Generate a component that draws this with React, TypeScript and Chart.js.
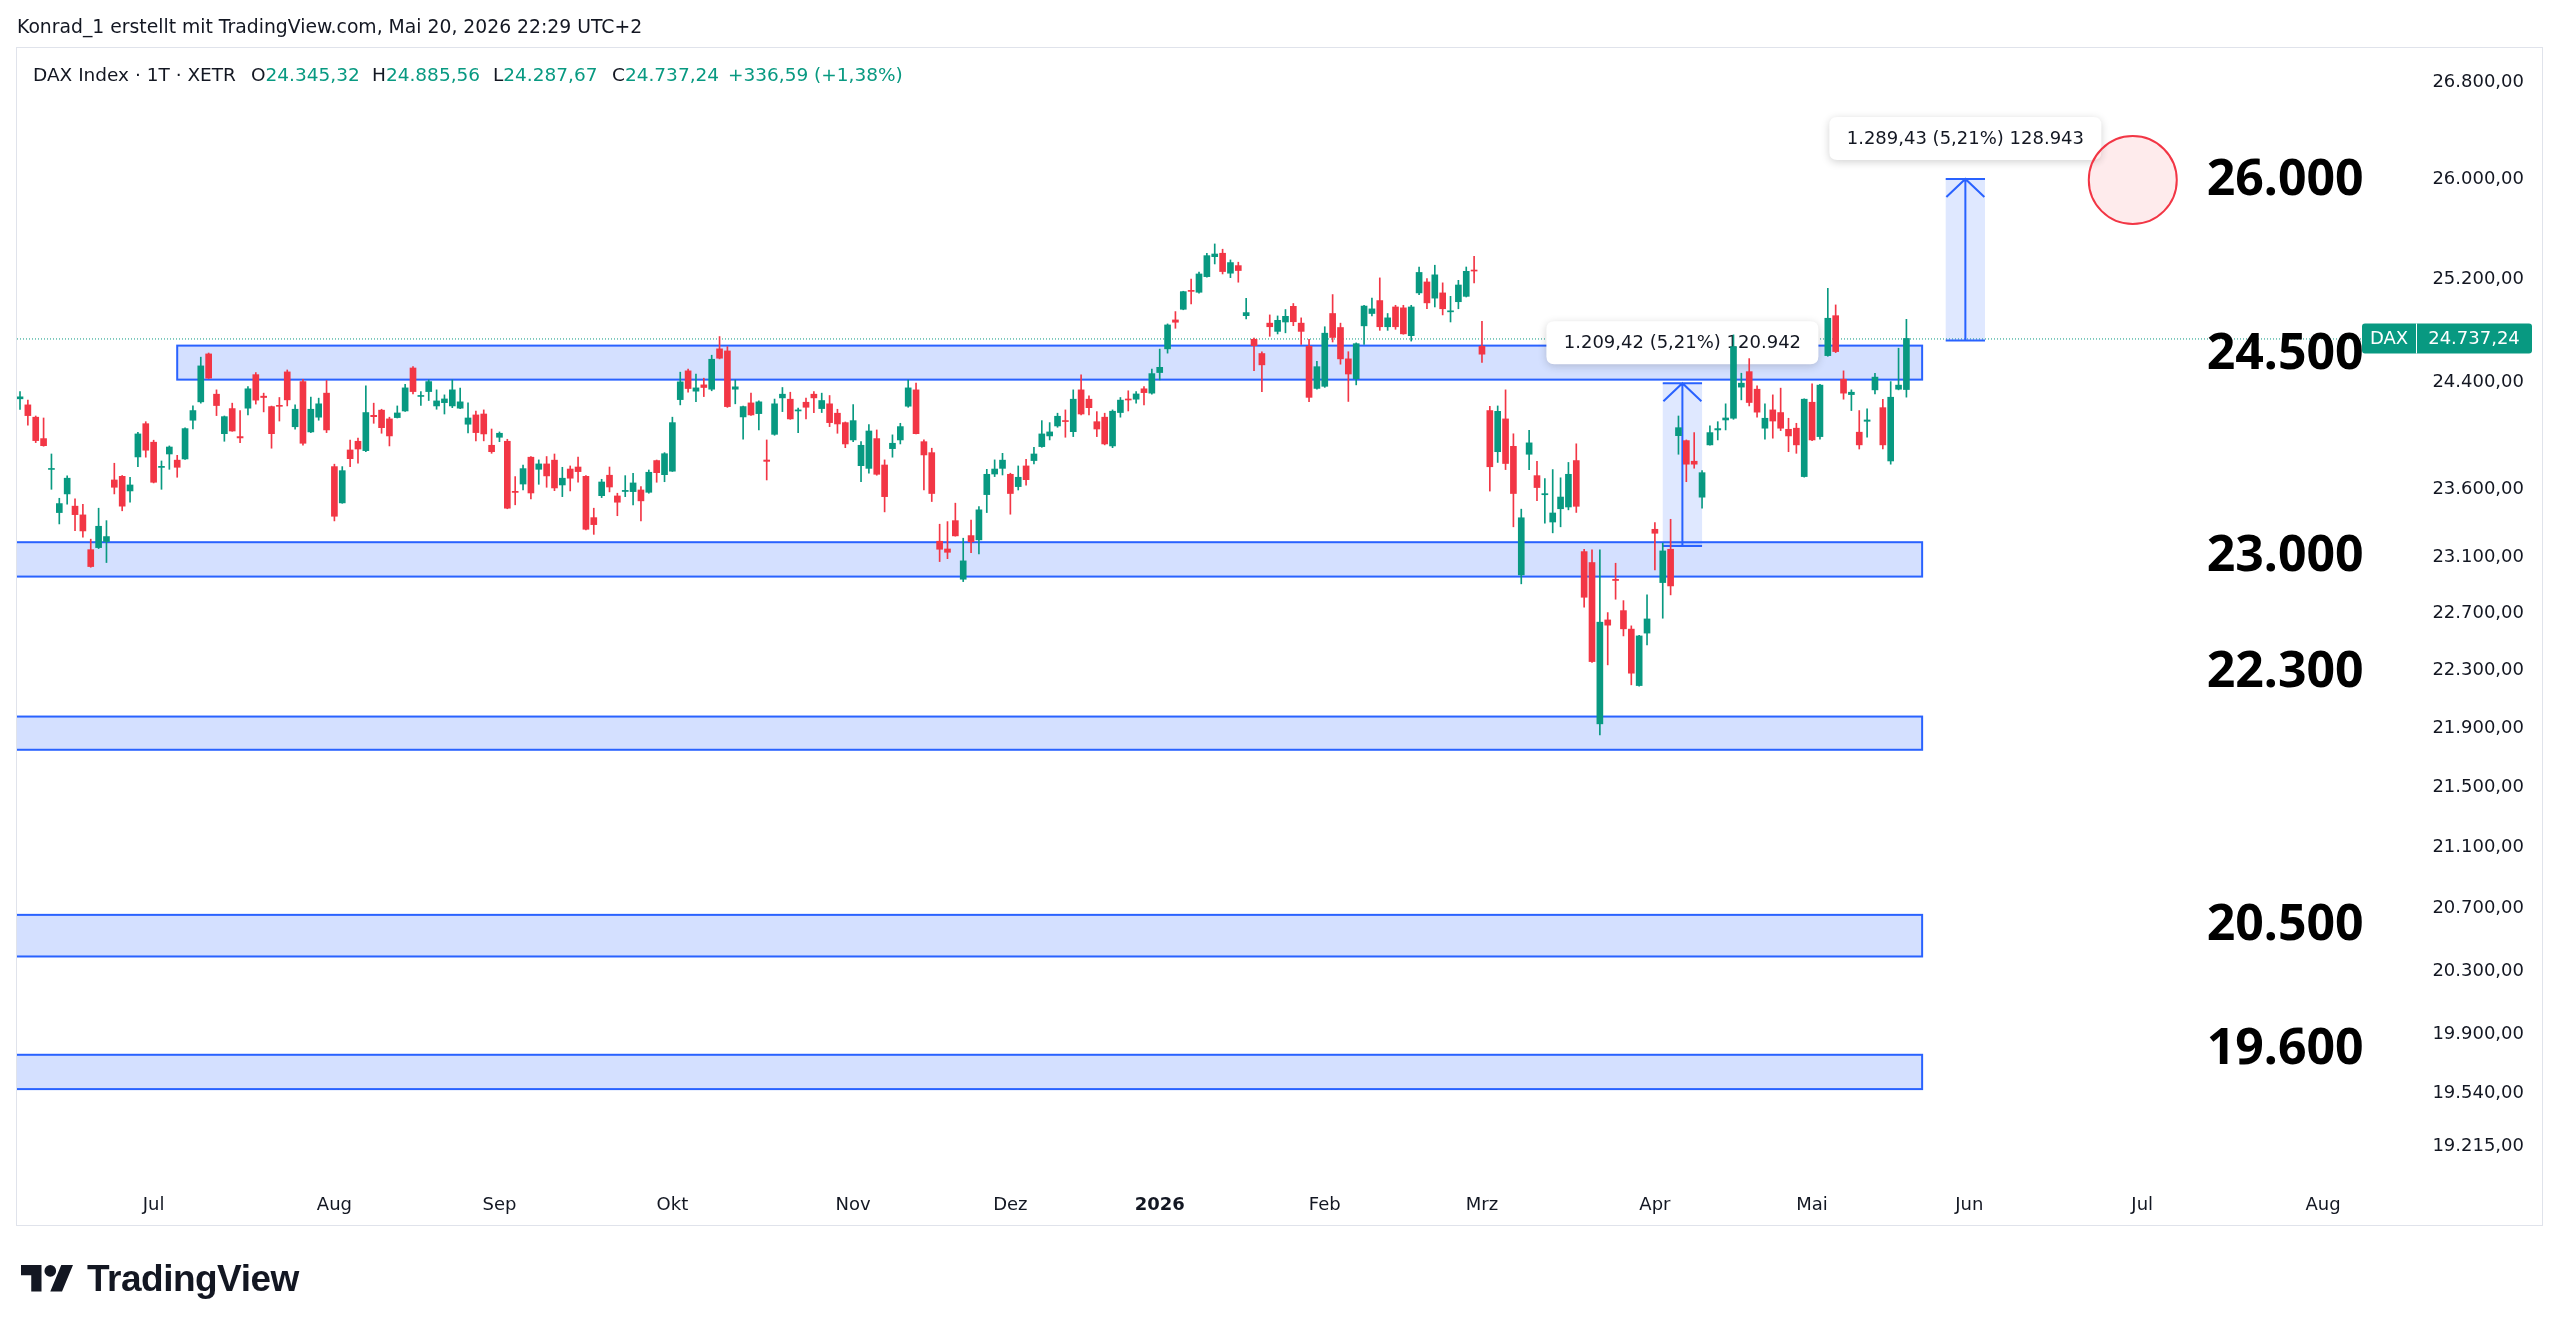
import React, { useEffect, useRef } from 'react';
import { Chart, registerables } from 'chart.js';

Chart.register(...registerables);

// ---- Daily candles (DAX, XETR, 1T) : index 0 = first visible session ----
const opens = [
  24275,24229,24136,23975,23745,23427,23564,23474,23410,23157,
  23172,23216,23667,23694,23586,23838,24087,23948,23760,23860,
  23814,23823,24113,24252,24618,24310,24012,24201,23990,24204,
  24459,24295,24216,24225,24480,24064,24406,24025,24136,24318,
  23766,23498,23890,23955,23885,24150,24189,24123,24133,24183,
  24510,24293,24330,24221,24246,24221,24204,24083,24153,24160,
  23925,23985,23955,23583,23637,23836,23746,23786,23814,23630,
  23748,23763,23694,23390,23551,23702,23549,23582,23581,23593,
  23576,23811,23706,23732,24269,24488,24333,24381,24348,24657,
  24641,24348,24138,24244,24163,23815,24007,24282,24272,24183,
  24249,24310,24201,24237,24166,24095,23965,23773,23753,23975,
  23778,23900,23965,24219,24343,23952,23870,23218,23162,23368,
  22944,23259,23228,23559,23711,23753,23709,23618,23771,23811,
  23915,23995,24070,24110,24027,24343,24272,24102,24136,23920,
  24171,24272,24272,24351,24318,24475,24657,24881,24964,25110,
  25097,25220,25378,25405,25247,25307,24914,24731,24621,24856,
  24792,24865,24987,24856,24677,24354,24370,24931,24822,24580,
  24428,24835,24931,25032,24828,24982,24975,24759,25092,25178,
  25051,25092,24944,25023,25065,25272,24677,24186,23877,24123,
  23917,22975,23858,23699,23558,23358,23455,23468,23811,23143,
  23064,21930,22654,22943,22720,22589,22194,22561,23305,22920,
  23160,23997,23960,23806,23540,23928,24040,24115,24128,24364,
  24482,24348,24053,24191,24171,24045,24053,23692,24249,23990,
  24605,24914,24424,24307,24023,24105,24343,24208,23808,24348,
  24345.32,
];
const highs = [
  24330,24265,24145,24130,23860,23532,23697,23527,23488,23233,
  23459,23368,23791,23700,23687,24022,24102,23963,23808,23920,
  23850,24055,24221,24593,24625,24343,24145,24242,24186,24368,
  24475,24318,24220,24285,24495,24229,24424,24288,24280,24414,
  23784,23766,23963,23978,24373,24242,24196,24136,24221,24386,
  24520,24330,24419,24343,24305,24419,24356,24244,24183,24191,
  24047,24025,23970,23692,23778,23840,23816,23841,23860,23761,
  23771,23836,23700,23459,23672,23763,23569,23699,23717,23618,
  23741,23815,23870,24136,24478,24501,24463,24432,24608,24752,
  24674,24419,24220,24318,24259,23965,24273,24361,24325,24204,
  24280,24330,24318,24300,24196,24100,24232,23952,24080,24040,
  23816,24003,24090,24419,24394,23965,23903,23342,23361,23496,
  23240,23373,23471,23746,23816,23865,23717,23771,23821,23910,
  24110,24095,24166,24191,24343,24457,24297,24178,24166,24191,
  24285,24336,24330,24368,24501,24655,24850,24946,25105,25200,
  25255,25405,25479,25437,25352,25334,25050,24740,24635,24920,
  24912,24962,25009,24897,24731,24561,24828,25079,24856,24635,
  24703,24995,25051,25210,24931,24995,24995,24995,25296,25205,
  25310,25171,25065,25191,25296,25380,24870,24218,24221,24343,
  24011,23452,24037,23806,23677,23744,23683,23797,23936,23160,
  23155,23155,22706,23059,22791,22612,22545,22832,23353,23204,
  23378,24145,23965,24020,23736,24070,24102,24237,24765,24470,
  24582,24373,24237,24305,24356,24128,24090,24275,24389,24385,
  25128,24998,24488,24343,24186,24199,24470,24272,24406,24662,
  24885.56,
];
const lows = [
  24195,24075,23945,23918,23598,23344,23488,23295,23247,23030,
  23165,23064,23564,23440,23503,23766,23836,23645,23598,23746,
  23687,23820,24047,24242,24430,24148,23955,24030,23945,24153,
  24235,24176,23903,24107,24221,24045,23925,24020,24113,24020,
  23366,23495,23766,23791,23877,24090,24015,23920,24130,24180,
  24312,24224,24262,24196,24160,24208,24200,24017,23958,23958,
  23865,23952,23455,23484,23593,23527,23635,23613,23588,23544,
  23586,23650,23300,23268,23537,23579,23404,23544,23484,23366,
  23569,23650,23654,23730,24229,24325,24254,24292,24336,24580,
  24210,24237,23970,24150,24040,23667,24000,24178,24120,24020,
  24123,24171,24171,24065,24015,23907,23952,23654,23717,23702,
  23432,23836,23935,24211,24010,23593,23508,23071,23092,23255,
  22927,23135,23126,23427,23692,23704,23415,23593,23628,23786,
  23910,23965,24060,23985,23990,24153,24153,23990,23928,23907,
  24136,24183,24242,24229,24310,24419,24624,24816,24960,25006,
  25089,25215,25320,25241,25212,25176,24889,24490,24329,24754,
  24772,24781,24836,24691,24253,24348,24362,24710,24539,24255,
  24381,24691,24912,24800,24800,24808,24770,24717,25079,24968,
  24982,24920,24865,24968,25060,25171,24553,23585,23797,23744,
  23323,22911,23744,23515,23350,23279,23323,23447,23428,22744,
  22355,21855,22338,22801,22541,22199,22190,22478,23011,22666,
  22832,23858,23654,23754,23459,23925,23965,24040,24120,24267,
  24221,24136,23970,23978,24035,23877,23865,23688,23960,23970,
  24600,24628,24272,24186,23897,23985,24312,23897,23784,24343,
  24287.67,
];
const closes = [
  24290,24148,23960,23922,23752,23493,23680,23412,23293,23035,
  23327,23252,23613,23474,23630,24010,23888,23650,23768,23912,
  23761,24050,24186,24526,24432,24224,24140,24032,23980,24351,
  24265,24285,24012,24218,24267,24196,23940,24196,24237,24040,
  23400,23736,23825,23897,24171,24140,24057,23995,24168,24358,
  24330,24300,24406,24259,24274,24343,24252,24130,24020,24010,
  23877,24015,23459,23575,23751,23571,23786,23697,23608,23680,
  23680,23729,23305,23339,23652,23615,23503,23590,23645,23513,
  23724,23721,23862,24095,24404,24353,24358,24361,24577,24585,
  24216,24366,24216,24153,24252,23805,24237,24310,24123,24191,
  24211,24282,24262,24095,24085,23935,24110,23925,24032,23709,
  23544,23940,24065,24358,24012,23853,23567,23160,23138,23257,
  23076,23214,23447,23709,23748,23814,23567,23687,23669,23860,
  24010,24025,24143,24103,24272,24160,24208,24047,23935,24181,
  24265,24266,24312,24322,24467,24515,24842,24863,25102,25104,
  25241,25386,25399,25260,25331,25268,24938,24682,24534,24828,
  24878,24909,24867,24792,24286,24520,24778,24745,24580,24464,
  24697,24989,24967,24828,24897,24828,24773,24982,25253,25014,
  25234,24968,24952,25154,25262,25264,24616,23765,24180,23789,
  23567,23389,23943,23611,23566,23424,23541,23709,23473,22815,
  22361,22638,22617,22935,22591,22280,22541,22661,23276,23148,
  22896,24057,23784,23784,23721,24020,24050,24130,24674,24394,
  24247,24174,24128,24107,24053,23995,23928,24272,23965,24379,
  24894,24636,24318,24325,23928,24115,24440,23928,24287,24379,
  24737.24,
];

// ---- Axis ticks ----
const monthTickIndex = [17, 40, 61, 83, 106, 126, 145, 166, 186, 208, 228, 248, 270, 293];
const monthTickLabels = ['Jul', 'Aug', 'Sep', 'Okt', 'Nov', 'Dez', '2026', 'Feb', 'Mrz', 'Apr', 'Mai', 'Jun', 'Jul', 'Aug'];
const priceTicks = [26800, 26000, 25200, 24400, 23600, 23100, 22700, 22300, 21900, 21500, 21100, 20700, 20300, 19900, 19540, 19215];

// ---- Drawings ----
const zoneTops = [24682, 23211, 21980, 20659, 19775];
const zoneBottoms = [24421, 22963, 21753, 20392, 19564];
const zoneStarts = [20, -20, -20, -20, -20];
const zoneEnds = [242, 242, 242, 242, 242];

const rulerStarts = [209, 245];
const rulerEnds = [214, 250];
const rulerFrom = [23184, 24721];
const rulerTo = [24394, 26002];
const rulerLabels = ['1.209,42 (5,21%) 120.942', '1.289,43 (5,21%) 128.943'];

const circleIndex = 268.8;
const circlePrice = 25993;

const noteTexts = ['26.000', '24.500', '23.000', '22.300', '20.500', '19.600'];
const noteAnchors = [25874, 24500, 23000, 22181, 20500, 19717];
const noteIndex = 278.2;

const UP = '#089981';
const DOWN = '#f23645';
const BLUE = '#2962ff';
const FONT = '"DejaVu Sans", sans-serif';

function fmtDe(v: number): string {
  const s = v.toFixed(2);
  const [intPart, dec] = s.split('.');
  return intPart.replace(/\B(?=(\d{3})+(?!\d))/g, '.') + ',' + dec;
}

function roundRect(ctx: CanvasRenderingContext2D, x: number, y: number, w: number, h: number, r: number) {
  ctx.beginPath();
  ctx.moveTo(x + r, y);
  ctx.lineTo(x + w - r, y);
  ctx.quadraticCurveTo(x + w, y, x + w, y + r);
  ctx.lineTo(x + w, y + h - r);
  ctx.quadraticCurveTo(x + w, y + h, x + w - r, y + h);
  ctx.lineTo(x + r, y + h);
  ctx.quadraticCurveTo(x, y + h, x, y + h - r);
  ctx.lineTo(x, y + r);
  ctx.quadraticCurveTo(x, y, x + r, y);
  ctx.closePath();
}

const drawingsPlugin = {
  id: 'tvDrawings',
  beforeDatasetsDraw(chart: any) {
    const { ctx, chartArea: a, scales } = chart;
    const x = scales.x;
    const y = scales.y;
    ctx.save();
    ctx.beginPath();
    ctx.rect(a.left, a.top, a.right - a.left, a.bottom - a.top);
    ctx.clip();

    // horizontal zones
    for (let k = 0; k < zoneTops.length; k++) {
      const x0 = x.getPixelForValue(zoneStarts[k]);
      const x1 = x.getPixelForValue(zoneEnds[k]);
      const y0 = y.getPixelForValue(zoneTops[k]);
      const y1 = y.getPixelForValue(zoneBottoms[k]);
      ctx.fillStyle = 'rgba(41,98,255,0.2)';
      ctx.fillRect(x0, y0, x1 - x0, y1 - y0);
      ctx.strokeStyle = BLUE;
      ctx.lineWidth = 2;
      ctx.strokeRect(x0, y0, x1 - x0, y1 - y0);
    }

    // last price dotted line
    const py = y.getPixelForValue(closes[closes.length - 1]);
    ctx.setLineDash([1, 2]);
    ctx.strokeStyle = UP;
    ctx.lineWidth = 1;
    ctx.beginPath();
    ctx.moveTo(a.left, py + 0.5);
    ctx.lineTo(a.right, py + 0.5);
    ctx.stroke();
    ctx.setLineDash([]);

    // price range rulers
    for (let k = 0; k < rulerStarts.length; k++) {
      const x0 = x.getPixelForValue(rulerStarts[k]);
      const x1 = x.getPixelForValue(rulerEnds[k]);
      const yt = y.getPixelForValue(rulerTo[k]);
      const yb = y.getPixelForValue(rulerFrom[k]);
      const xm = (x0 + x1) / 2;
      ctx.fillStyle = 'rgba(41,98,255,0.15)';
      ctx.fillRect(x0, yt, x1 - x0, yb - yt);
      ctx.strokeStyle = BLUE;
      ctx.lineWidth = 2;
      ctx.beginPath();
      ctx.moveTo(x0, yt); ctx.lineTo(x1, yt);
      ctx.moveTo(x0, yb); ctx.lineTo(x1, yb);
      ctx.moveTo(xm, yb); ctx.lineTo(xm, yt);
      ctx.moveTo(xm - 19, yt + 18); ctx.lineTo(xm, yt); ctx.lineTo(xm + 19, yt + 18);
      ctx.stroke();

      // label box
      const bw = 272;
      const bh = 43;
      const bx = xm - bw / 2;
      const by = yt - 19 - bh;
      ctx.save();
      ctx.shadowColor = 'rgba(0,0,0,0.18)';
      ctx.shadowBlur = 8;
      ctx.shadowOffsetY = 2;
      ctx.fillStyle = '#ffffff';
      roundRect(ctx, bx, by, bw, bh, 8);
      ctx.fill();
      ctx.restore();
      ctx.fillStyle = '#131722';
      ctx.font = '18px ' + FONT;
      ctx.textAlign = 'center';
      ctx.textBaseline = 'middle';
      ctx.fillText(rulerLabels[k], xm, by + bh / 2 + 1);
    }

    // red target circle
    const cx = x.getPixelForValue(circleIndex);
    const cy = y.getPixelForValue(circlePrice);
    ctx.beginPath();
    ctx.arc(cx, cy, 44, 0, Math.PI * 2);
    ctx.fillStyle = 'rgba(242,54,69,0.1)';
    ctx.fill();
    ctx.strokeStyle = DOWN;
    ctx.lineWidth = 2;
    ctx.stroke();

    ctx.restore();
  },
  afterDatasetsDraw(chart: any) {
    const { ctx, scales } = chart;
    const x = scales.x;
    const y = scales.y;
    ctx.save();
    ctx.fillStyle = '#000000';
    ctx.font = 'bold 50px "Noto Sans", sans-serif';
    ctx.textAlign = 'left';
    ctx.textBaseline = 'alphabetic';
    const nx = x.getPixelForValue(noteIndex);
    for (let k = 0; k < noteTexts.length; k++) {
      ctx.fillText(noteTexts[k], nx, y.getPixelForValue(noteAnchors[k]));
    }
    ctx.restore();
  },
  afterDraw(chart: any) {
    const { ctx, chartArea: a, scales } = chart;
    const y = scales.y;
    const last = closes[closes.length - 1];
    const py = y.getPixelForValue(last);
    const left = a.right - 1;
    const w = 170;
    const h = 30;
    ctx.save();
    ctx.fillStyle = UP;
    roundRect(ctx, left, py - h / 2, w, h, 3);
    ctx.fill();
    ctx.strokeStyle = '#ffffff';
    ctx.lineWidth = 1;
    ctx.beginPath();
    ctx.moveTo(left + 54.5, py - h / 2);
    ctx.lineTo(left + 54.5, py + h / 2);
    ctx.stroke();
    ctx.fillStyle = '#ffffff';
    ctx.font = '18px ' + FONT;
    ctx.textAlign = 'center';
    ctx.textBaseline = 'middle';
    ctx.fillText('DAX', left + 27, py + 1);
    ctx.fillText(fmtDe(last), left + 54 + 58, py + 1);
    ctx.restore();
  },
};

export default function App() {
  const ref = useRef<HTMLCanvasElement | null>(null);

  useEffect(() => {
    const canvas = ref.current;
    if (!canvas) return;
    const idx = opens.map((_, i) => i);
    const colors = idx.map((i) => (closes[i] >= opens[i] ? UP : DOWN));
    const chart = new Chart(canvas, {
      type: 'bar',
      data: {
        datasets: [
          {
            label: 'body',
            data: idx.map((i) => ({ x: i, y: [Math.min(opens[i], closes[i]), Math.max(opens[i], closes[i])] })),
            backgroundColor: colors,
            borderWidth: 0,
            barThickness: 6,
            minBarLength: 1,
            grouped: false,
            order: 0,
          },
          {
            label: 'wick',
            data: idx.map((i) => ({ x: i, y: [lows[i], highs[i]] })),
            backgroundColor: colors,
            borderWidth: 0,
            barThickness: 1,
            grouped: false,
            order: 1,
          },
        ],
      } as any,
      options: {
        responsive: false,
        animation: false,
        devicePixelRatio: 1,
        events: [],
        layout: { padding: { left: 17, top: 50, right: 36, bottom: 107 } },
        plugins: { legend: { display: false }, tooltip: { enabled: false } },
        scales: {
          x: {
            type: 'linear',
            offset: false,
            min: -0.382,
            max: 298.09,
            afterFit: (s: any) => { s.height = 45; },
            afterBuildTicks: (s: any) => { s.ticks = monthTickIndex.map((v) => ({ value: v })); },
            grid: { display: false, drawTicks: false, offset: false },
            border: { display: false },
            ticks: {
              autoSkip: false,
              maxRotation: 0,
              minRotation: 0,
              padding: 15,
              color: '#131722',
              font: (c: any) => ({ family: FONT, size: 18, weight: monthTickLabels[c.index] === '2026' ? 'bold' : 'normal' }),
              callback: (_v: any, i: number) => monthTickLabels[i],
            },
          },
          y: {
            type: 'logarithmic',
            position: 'right',
            offset: false,
            min: 19016,
            max: 27071.2,
            afterFit: (s: any) => { s.width = 161; },
            afterBuildTicks: (s: any) => { s.ticks = priceTicks.map((v) => ({ value: v })); },
            grid: { display: false, drawTicks: false },
            border: { display: false },
            ticks: {
              autoSkip: false,
              padding: 0,
              crossAlign: 'far',
              color: '#131722',
              font: { family: FONT, size: 18 },
              callback: (v: any) => fmtDe(Number(v)),
            },
          },
        },
      } as any,
      plugins: [drawingsPlugin as any],
    });
    return () => chart.destroy();
  }, []);

  const lbl: React.CSSProperties = { color: '#131722' };
  const val: React.CSSProperties = { color: UP };
  const legendBase: React.CSSProperties = {
    position: 'absolute', top: 66, font: '18.5px ' + FONT, lineHeight: '18px', whiteSpace: 'nowrap',
  };

  return (
    <div style={{ position: 'absolute', left: 0, top: 0, width: 2560, height: 1332, background: '#ffffff', overflow: 'hidden' }}>
      <div style={{ position: 'absolute', left: 16, top: 47, width: 2527, height: 1179, border: '1px solid #e0e3eb', boxSizing: 'border-box' }} />
      <canvas ref={ref} width={2560} height={1332} style={{ position: 'absolute', left: 0, top: 0, width: 2560, height: 1332 }} />
      <div style={{ position: 'absolute', left: 17, top: 18, font: '18.8px ' + FONT, lineHeight: '18px', color: '#131722', whiteSpace: 'nowrap' }}>
        Konrad_1 erstellt mit TradingView.com, Mai 20, 2026 22:29 UTC+2
      </div>
      <div style={{ ...legendBase, left: 33, color: '#131722' }}>DAX Index · 1T · XETR</div>
      <div style={{ ...legendBase, left: 251 }}><span style={lbl}>O</span><span style={val}>24.345,32</span></div>
      <div style={{ ...legendBase, left: 372 }}><span style={lbl}>H</span><span style={val}>24.885,56</span></div>
      <div style={{ ...legendBase, left: 493 }}><span style={lbl}>L</span><span style={val}>24.287,67</span></div>
      <div style={{ ...legendBase, left: 612 }}><span style={lbl}>C</span><span style={val}>24.737,24</span></div>
      <div style={{ ...legendBase, left: 728, color: UP }}>+336,59 (+1,38%)</div>
      <div style={{ position: 'absolute', left: 21, top: 1265, display: 'flex', alignItems: 'center' }}>
        <svg width="52" height="26.5" viewBox="0 4 35.5 18" style={{ display: 'block' }}>
          <path d="M14 22H7V11H0V4h14v18zM28 22h-8l7.5-18h8L28 22z" fill="#131722" />
          <circle cx="20" cy="8" r="4" fill="#131722" />
        </svg>
      </div>
      <div style={{ position: 'absolute', left: 87, top: 1260, font: 'bold 37px "Liberation Sans", sans-serif', lineHeight: '37px', letterSpacing: '-0.5px', color: '#131722', whiteSpace: 'nowrap' }}>
        TradingView
      </div>
    </div>
  );
}
